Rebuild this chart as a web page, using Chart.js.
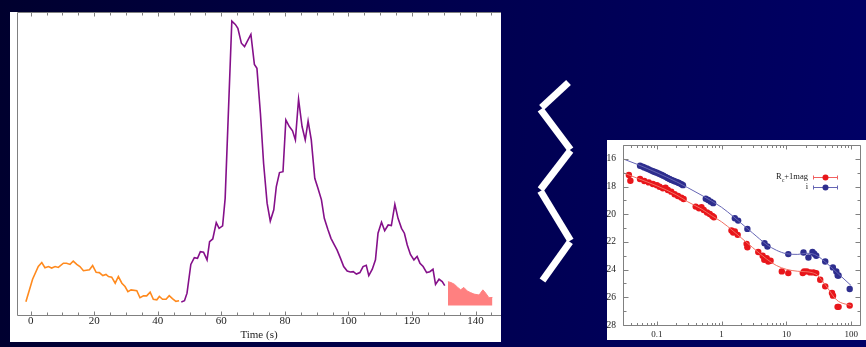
<!DOCTYPE html>
<html>
<head>
<meta charset="utf-8">
<script src="https://cdn.jsdelivr.net/npm/chart.js@4.4.1/dist/chart.umd.min.js"></script>
<style>
  html, body { margin: 0; padding: 0; width: 866px; height: 347px; overflow: hidden; }
  body { position: relative; background: linear-gradient(95deg, #00002e 0%, #00004e 50%, #000066 100%); }
  #burstPanel { position: absolute; left: 10px; top: 12px; width: 491px; height: 330px; background: #fff; }
  #afterglowPanel { position: absolute; left: 607px; top: 140px; width: 259px; height: 200px; background: #fff; }
  #zigzag { position: absolute; left: 0; top: 0; }
</style>
</head>
<body>
<div id="burstPanel"><canvas id="burst" width="491" height="330"></canvas></div>
<svg id="zigzag" width="866" height="347">
  <g stroke="#fff" stroke-width="7" stroke-linecap="butt" fill="none">
    <line x1="568.5" y1="82.5" x2="541.5" y2="107.5"/>
    <line x1="540.5" y1="109.5" x2="570.5" y2="149.5"/>
    <line x1="570.5" y1="150.5" x2="540.5" y2="189.5"/>
    <line x1="540.5" y1="191" x2="570.5" y2="240.5"/>
    <line x1="570" y1="242" x2="542.5" y2="280.5"/>
  </g>
</svg>
<div id="afterglowPanel"><canvas id="afterglow" width="259" height="200"></canvas></div>

<script>
// ---- Prompt emission light curve (arbitrary count-rate units) ----
const precursorTime = [-1.5, 0.6, 2.4, 3.5, 4.5, 5.6, 6.6, 7.7, 8.7, 10.3, 11.3, 12.4, 13.4, 14.5, 15.5, 16.6, 18.5, 19.5, 20.6, 21.6, 22.7, 23.7, 24.5, 25.5, 26.6, 27.6, 28.7, 29.7, 30.6, 31.6, 33.4, 34.4, 35.5, 36.5, 37.6, 38.6, 39.7, 40.5, 41.5, 42.6, 43.6, 44.6, 45.7, 46.7];
const precursorRate = [4.4, 11.8, 16.0, 17.3, 15.6, 16.0, 15.5, 16.0, 15.7, 17.1, 17.1, 16.7, 17.8, 16.7, 16.0, 14.6, 14.9, 16.3, 14.1, 14.0, 13.0, 13.4, 12.7, 12.5, 10.5, 12.7, 10.5, 9.4, 7.7, 8.3, 8.0, 5.7, 6.3, 6.3, 7.5, 5.2, 5.0, 6.1, 5.2, 5.2, 6.4, 5.4, 4.5, 4.7];

const mainTime = [47.4, 48.4, 49.2, 50.4, 51.5, 52.5, 53.4, 54.4, 55.5, 56.3, 57.3, 58.4, 59.3, 60.4, 61.2, 63.3, 64.4, 65.2, 66.3, 67.3, 68.4, 69.3, 70.4, 71.2, 72.3, 73.3, 74.4, 75.4, 76.5, 77.3, 78.3, 79.4, 80.3, 81.4, 82.4, 83.3, 84.3, 85.4, 86.4, 87.3, 88.3, 89.4, 90.4, 91.5, 92.4, 93.5, 94.5, 95.6, 96.4, 97.5, 98.5, 99.6, 100.6, 101.5, 102.5, 103.6, 104.6, 105.6, 106.4, 107.5, 108.5, 109.3, 110.4, 111.4, 112.5, 113.5, 114.6, 115.6, 116.7, 117.6, 118.5, 119.5, 120.6, 121.6, 122.5, 123.5, 124.6, 125.6, 126.6, 127.4, 128.5, 129.5, 130.3];
const mainRate = [4.3, 4.7, 7.2, 16.7, 18.9, 18.7, 20.9, 20.7, 18.2, 24.2, 25.1, 30.5, 28.6, 29.4, 38.5, 97.0, 95.9, 94.6, 89.7, 88.6, 90.8, 92.6, 82.7, 81.4, 66.5, 50.0, 36.9, 31.0, 34.7, 42.4, 47.0, 47.3, 64.4, 62.2, 60.8, 57.8, 71.2, 62.2, 57.8, 64.0, 57.8, 45.1, 41.8, 38.0, 31.9, 28.3, 25.3, 23.1, 21.5, 18.7, 16.0, 14.5, 14.2, 14.3, 13.5, 14.0, 16.0, 16.4, 13.0, 15.1, 18.2, 27.0, 30.6, 27.8, 29.7, 29.5, 36.5, 31.9, 28.6, 27.0, 23.1, 20.0, 18.2, 19.3, 17.1, 16.0, 14.0, 14.3, 15.1, 10.1, 11.8, 11.0, 9.7];

const tailTime = [131.3, 132.3, 133.4, 134.4, 135.3, 136.3, 137.4, 138.4, 139.5, 141.1, 142.3, 143.2, 144.2, 145.3];
const tailRate = [11.0, 10.7, 10.1, 9.1, 8.3, 9.1, 7.9, 7.4, 6.9, 6.6, 8.3, 7.2, 5.7, 5.8];
const tailBase = 3.1;

const burstTickStep = 5;
const burstLabelStep = 20;

// ---- Optical afterglow (time in days, magnitudes) ----
const rcTime = [0.037, 0.039, 0.055, 0.064, 0.075, 0.087, 0.1, 0.11, 0.124, 0.136, 0.148, 0.167, 0.188, 0.212, 0.239, 0.259, 0.398, 0.448, 0.488, 0.53, 0.595, 0.656, 0.72, 0.76, 1.42, 1.51, 1.6, 1.77, 2.43, 2.5, 3.68, 4.3, 4.56, 4.97, 5.26, 5.7, 8.5, 10.7, 17.9, 18.8, 20.7, 23.3, 26.2, 28.9, 33.3, 39.8, 50.6, 52.5, 61.7, 64, 95];
const rcMag = [17.17, 17.58, 17.46, 17.6, 17.7, 17.82, 17.9, 18.01, 18.13, 18.09, 18.25, 18.37, 18.56, 18.68, 18.8, 18.9, 19.45, 19.57, 19.5, 19.69, 19.88, 19.98, 20.12, 20.22, 21.18, 21.32, 21.25, 21.49, 22.14, 22.38, 22.73, 23.0, 23.29, 23.17, 23.41, 23.36, 24.13, 24.25, 24.25, 24.13, 24.13, 24.2, 24.2, 24.25, 24.73, 25.21, 25.68, 25.88, 26.69, 26.69, 26.6];

const iTime = [0.055, 0.06, 0.064, 0.07, 0.075, 0.081, 0.087, 0.093, 0.1, 0.108, 0.117, 0.126, 0.136, 0.146, 0.157, 0.168, 0.18, 0.192, 0.204, 0.215, 0.225, 0.24, 0.253, 0.57, 0.62, 0.68, 0.74, 1.6, 1.8, 2.5, 4.6, 5.1, 10.7, 18.4, 21.9, 25.3, 26.9, 28.9, 39.8, 52.3, 59, 62, 64, 95];
const iMag = [16.5, 16.56, 16.62, 16.69, 16.76, 16.83, 16.9, 16.95, 17.0, 17.08, 17.15, 17.22, 17.3, 17.38, 17.46, 17.52, 17.58, 17.63, 17.68, 17.73, 17.77, 17.84, 17.9, 18.88, 18.97, 19.09, 19.2, 20.29, 20.46, 21.06, 22.09, 22.33, 22.88, 22.76, 23.12, 22.73, 22.85, 23.0, 23.41, 23.84, 24.13, 24.42, 24.42, 25.4];

const modelTime = [0.03, 0.05, 0.1, 0.2, 0.3, 0.5, 0.7, 1, 1.5, 2, 3, 5, 7, 10, 15, 20, 25, 30, 40, 60, 100];
const rcModelMag = [17.0, 17.4, 17.95, 18.6, 19.1, 19.65, 20.1, 20.55, 21.2, 21.7, 22.4, 23.25, 23.7, 23.98, 24.12, 24.15, 24.22, 24.4, 25.1, 26.2, 26.6];
const iModelMag = [16.0, 16.4, 17.0, 17.65, 18.08, 18.65, 19.05, 19.5, 20.15, 20.65, 21.35, 22.2, 22.6, 22.85, 22.9, 22.82, 22.85, 23.0, 23.45, 24.2, 25.15];

const magTicks = [15, 16, 17, 18, 19, 20, 21, 22, 23, 24, 25, 26, 27, 28];
const decades = [0.01, 0.1, 1, 10, 100];

const legendLabels = [{ main: 'R', sub: 'c', rest: '+1mag' }, { main: 'i', sub: '', rest: '' }];

// ---- helpers ----
const pts = (xs, ys) => xs.map((x, i) => ({ x, y: ys[i] }));
const SERIF = "'Liberation Serif', 'DejaVu Serif', serif";
const FRAME = '#808080';
const isDecade = v => Math.abs(Math.log10(v) - Math.round(Math.log10(v))) < 1e-6;
const noEdgePadding = s => { s.paddingTop = 0; s.paddingBottom = 0; s.paddingLeft = 0; s.paddingRight = 0; };

// Frame with inward ticks for the burst light curve (left, top, bottom sides)
const burstFrame = {
  id: 'burstFrame',
  afterDatasetsDraw(chart) {
    const { ctx, chartArea: a, scales: { x } } = chart;
    const L = Math.round(a.left) + 0.5, T = Math.round(a.top) + 0.5, B = Math.round(a.bottom) + 0.5, R = a.right;
    ctx.save();
    ctx.strokeStyle = FRAME; ctx.lineWidth = 1;
    ctx.beginPath();
    ctx.moveTo(L, B); ctx.lineTo(L, T); ctx.lineTo(R, T);
    ctx.moveTo(L, B); ctx.lineTo(R, B);
    x.ticks.forEach(t => {
      const px = Math.round(x.getPixelForValue(t.value)) + 0.5;
      const len = t.value % burstLabelStep === 0 ? 4 : 3;
      ctx.moveTo(px, B); ctx.lineTo(px, B - len);
      ctx.moveTo(px, T); ctx.lineTo(px, T + len);
    });
    ctx.stroke();
    ctx.restore();
  }
};

new Chart(document.getElementById('burst'), {
  type: 'line',
  data: {
    datasets: [
      { data: pts(precursorTime, precursorRate), borderColor: '#ff8a1e', borderWidth: 1.6, pointRadius: 0, fill: false },
      { data: pts(mainTime, mainRate), borderColor: '#85108a', borderWidth: 1.6, pointRadius: 0, fill: false },
      { data: pts(tailTime, tailRate), borderColor: '#ff8080', backgroundColor: '#ff8080', borderWidth: 1, pointRadius: 0, fill: { value: tailBase } }
    ]
  },
  options: {
    responsive: false, animation: false, devicePixelRatio: 1,
    layout: { padding: { left: 7, right: 0, top: 0, bottom: 0 } },
    plugins: { legend: { display: false }, tooltip: { enabled: false } },
    scales: {
      x: {
        type: 'linear', min: -4.3, max: 148,
        afterBuildTicks: s => {
          const t = [];
          for (let v = 0; v <= 145; v += burstTickStep) t.push({ value: v });
          s.ticks = t;
        },
        afterFit: s => { s.height = 27; noEdgePadding(s); },
        grid: { display: false, drawTicks: false }, border: { display: false },
        ticks: {
          autoSkip: false, maxRotation: 0, padding: 0, color: '#222',
          font: { family: SERIF, size: 11 },
          callback: v => (v % burstLabelStep === 0 ? String(v) : '')
        },
        title: { display: true, text: 'Time (s)', color: '#222', padding: 0, font: { family: SERIF, size: 11 } }
      },
      y: { display: false, min: 0, max: 100 }
    }
  },
  plugins: [burstFrame]
});

// Frame, inward ticks on all four sides, and the legend of the afterglow panel
const afterglowFrame = {
  id: 'afterglowFrame',
  afterDatasetsDraw(chart) {
    const { ctx, chartArea: a, scales: { x, y } } = chart;
    const L = Math.round(a.left) + 0.5, T = Math.round(a.top) + 0.5, B = Math.round(a.bottom) + 0.5, R = Math.round(a.right) - 0.5;
    ctx.save();
    ctx.strokeStyle = FRAME; ctx.lineWidth = 1;
    ctx.beginPath();
    ctx.rect(L, T, R - L, B - T);
    x.ticks.forEach(t => {
      const px = Math.round(x.getPixelForValue(t.value)) + 0.5;
      const len = isDecade(t.value) ? 4 : 2.5;
      ctx.moveTo(px, B); ctx.lineTo(px, B - len);
      ctx.moveTo(px, T); ctx.lineTo(px, T + len);
    });
    y.ticks.forEach(t => {
      const py = Math.round(y.getPixelForValue(t.value)) + 0.5;
      const len = t.value % 2 === 0 ? 5 : 3;
      ctx.moveTo(L, py); ctx.lineTo(L + len, py);
      ctx.moveTo(R, py); ctx.lineTo(R - len, py);
    });
    ctx.stroke();

    // legend
    const series = chart.data.datasets.filter(d => d.legendIndex !== undefined);
    series.forEach(d => {
      const lab = legendLabels[d.legendIndex];
      const ly = a.top + 32 + d.legendIndex * 10;
      const right = a.left + 185;
      ctx.fillStyle = '#222';
      ctx.textBaseline = 'middle';
      ctx.font = `8.5px ${SERIF}`;
      const wMain = ctx.measureText(lab.main).width;
      const wRest = ctx.measureText(lab.rest).width;
      ctx.font = `6px ${SERIF}`;
      const wSub = lab.sub ? ctx.measureText(lab.sub).width : 0;
      let tx = right - wMain - wSub - wRest;
      ctx.font = `8.5px ${SERIF}`;
      ctx.fillText(lab.main, tx, ly); tx += wMain;
      if (lab.sub) { ctx.font = `6px ${SERIF}`; ctx.fillText(lab.sub, tx, ly + 3); tx += wSub; }
      ctx.font = `8.5px ${SERIF}`;
      ctx.fillText(lab.rest, tx, ly);
      // sample: point with horizontal error bar
      const x0 = right + 5, x1 = right + 30, xc = (x0 + x1) / 2, yy = Math.round(ly) + 0.5;
      ctx.strokeStyle = d.legendLine; ctx.lineWidth = 1;
      ctx.beginPath();
      ctx.moveTo(x0, yy); ctx.lineTo(x1, yy);
      ctx.moveTo(x0 + 0.5, yy - 2); ctx.lineTo(x0 + 0.5, yy + 2);
      ctx.moveTo(x1 - 0.5, yy - 2); ctx.lineTo(x1 - 0.5, yy + 2);
      ctx.stroke();
      ctx.fillStyle = d.backgroundColor;
      ctx.beginPath(); ctx.arc(xc, yy, 3, 0, Math.PI * 2); ctx.fill();
    });
    ctx.restore();
  }
};

new Chart(document.getElementById('afterglow'), {
  type: 'scatter',
  data: {
    datasets: [
      { data: pts(modelTime, rcModelMag), showLine: true, borderColor: '#f27062', borderWidth: 1, pointRadius: 0, cubicInterpolationMode: 'monotone' },
      { data: pts(modelTime, iModelMag), showLine: true, borderColor: '#6565b4', borderWidth: 1, pointRadius: 0, cubicInterpolationMode: 'monotone' },
      { data: pts(rcTime, rcMag), pointRadius: 3.2, borderWidth: 0, backgroundColor: '#e8161b', legendIndex: 0, legendLine: '#f06060' },
      { data: pts(iTime, iMag), pointRadius: 3.2, borderWidth: 0, backgroundColor: '#2e2e8e', legendIndex: 1, legendLine: '#6565b4' }
    ]
  },
  options: {
    responsive: false, animation: false, devicePixelRatio: 1,
    layout: { padding: { left: 0, right: 5, top: 5, bottom: 0 } },
    plugins: { legend: { display: false }, tooltip: { enabled: false } },
    scales: {
      x: {
        type: 'logarithmic', min: 0.03, max: 142,
        afterBuildTicks: s => {
          const t = [];
          decades.forEach(d => { for (let k = 1; k <= 9; k++) { const v = +(k * d).toPrecision(6); if (v >= s.min && v <= s.max) t.push({ value: v }); } });
          s.ticks = t;
        },
        afterFit: s => { s.height = 15; noEdgePadding(s); },
        grid: { display: false, drawTicks: false }, border: { display: false },
        ticks: {
          autoSkip: false, maxRotation: 0, padding: 4, color: '#222',
          font: { family: SERIF, size: 9 },
          callback: v => (isDecade(v) ? String(v) : '')
        }
      },
      y: {
        type: 'linear', min: 15, max: 28, reverse: true,
        afterBuildTicks: s => { s.ticks = magTicks.map(v => ({ value: v })); },
        afterFit: s => { s.width = 16; noEdgePadding(s); },
        grid: { display: false, drawTicks: false }, border: { display: false },
        ticks: {
          autoSkip: false, padding: 7, color: '#222',
          font: { family: SERIF, size: 9.5 },
          callback: v => (v % 2 === 0 ? String(v) : '')
        }
      }
    }
  },
  plugins: [afterglowFrame]
});
</script>
</body>
</html>
